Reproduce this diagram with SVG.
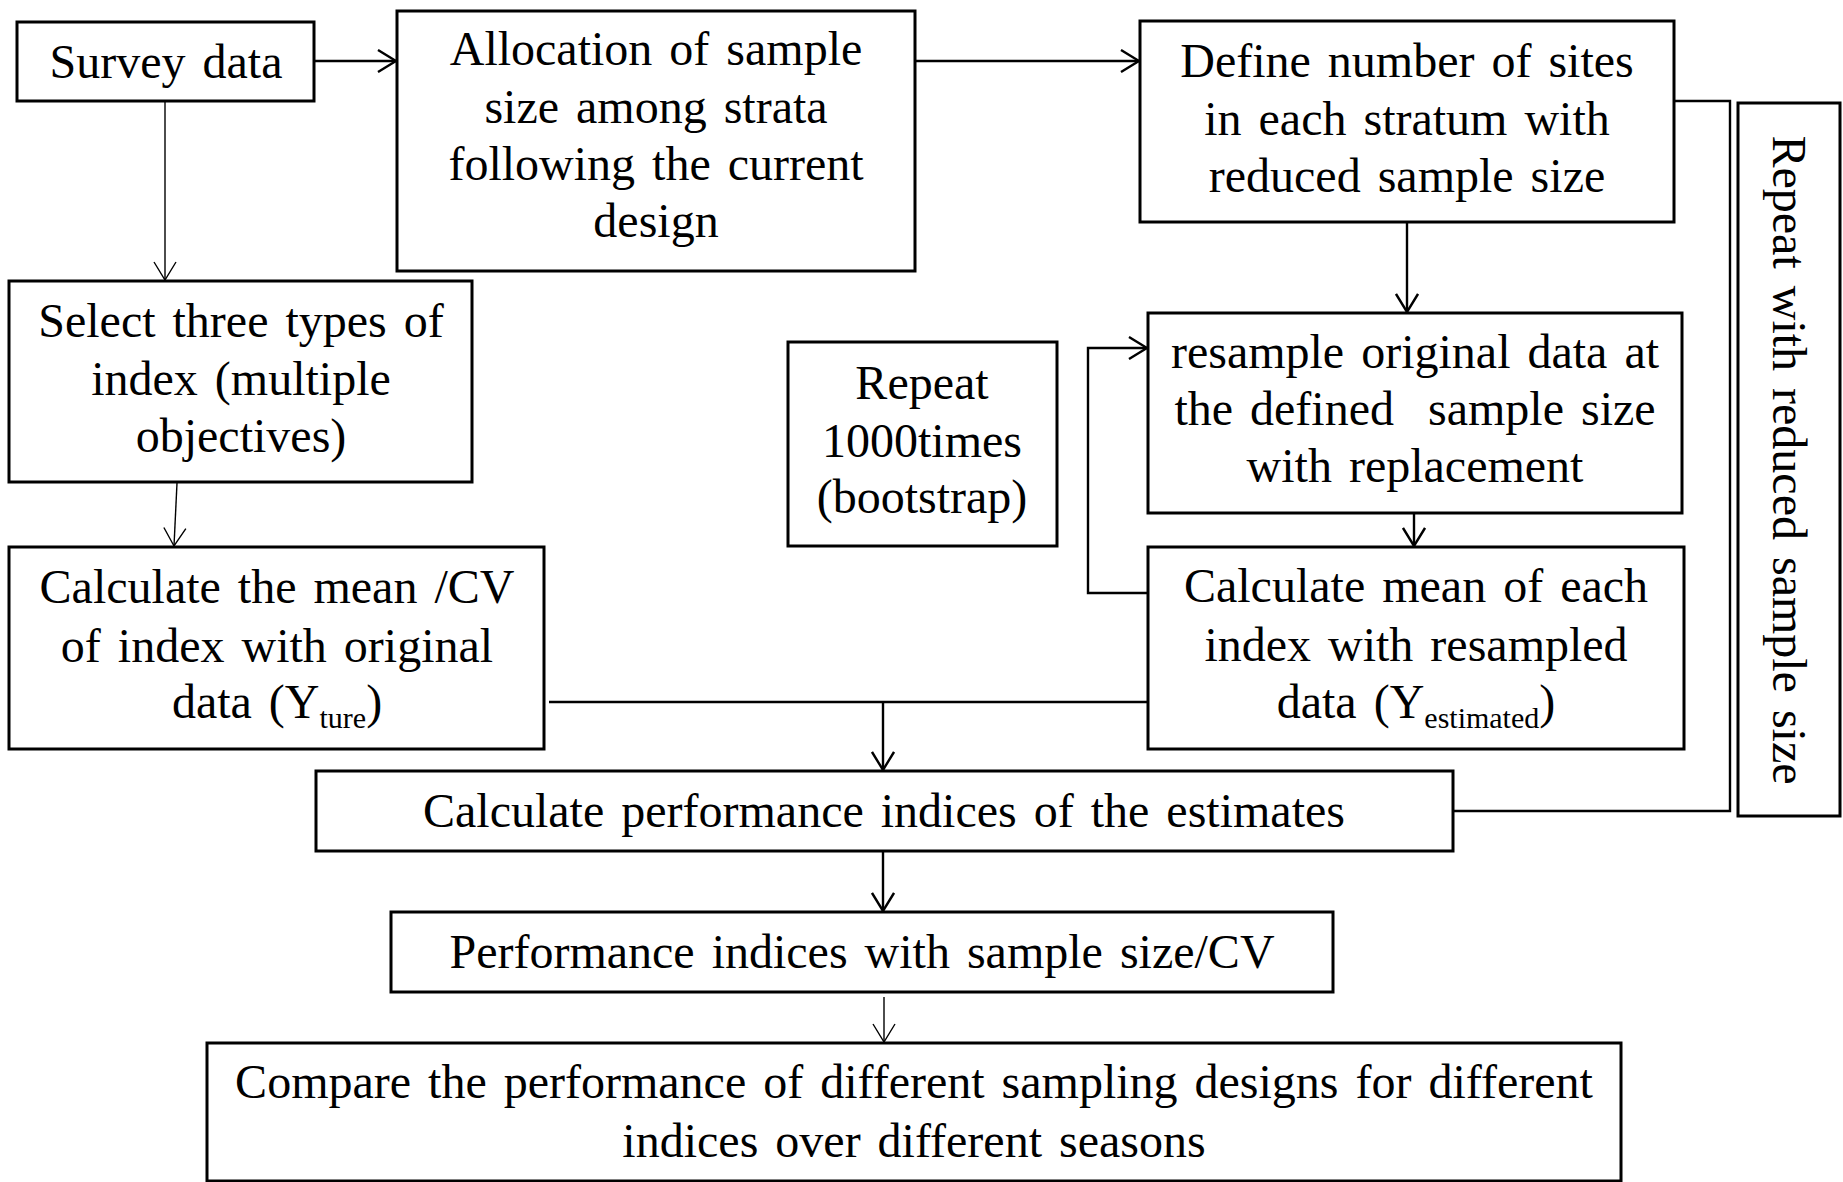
<svg xmlns="http://www.w3.org/2000/svg" width="1843" height="1182" viewBox="0 0 1843 1182">
  <style>
    .box { fill: #ffffff; stroke: #000000; stroke-width: 3; }
    .t { font-family: "Liberation Serif", "Times New Roman", serif; font-size: 48px; fill: #000000; text-anchor: middle; word-spacing: 5px; }
    .sub { font-size: 30px; }
    .thick { fill: none; stroke: #000000; stroke-width: 2.4; }
    .thin { fill: none; stroke: #000000; stroke-width: 1.4; }
  </style>
  <defs>
    <marker id="arrowThick" markerUnits="userSpaceOnUse" viewBox="0 0 20 24" markerWidth="20" markerHeight="24" refX="19" refY="12" orient="auto">
      <path d="M1,1 L19,12 L1,23" fill="none" stroke="#000000" stroke-width="2.4"/>
    </marker>
    <marker id="arrowThin" markerUnits="userSpaceOnUse" viewBox="0 0 20 24" markerWidth="20" markerHeight="24" refX="19" refY="12" orient="auto">
      <path d="M1,1 L19,12 L1,23" fill="none" stroke="#000000" stroke-width="1.4"/>
    </marker>
  </defs>
  <rect width="1843" height="1182" fill="#ffffff"/>

  <g id="connectors">
    <path class="thick" d="M314,61 L396,61" marker-end="url(#arrowThick)"/>
    <path class="thick" d="M915,61 L1139,61" marker-end="url(#arrowThick)"/>
    <path class="thin" d="M165,101 L165,280" marker-end="url(#arrowThin)"/>
    <path class="thin" d="M177,483 L174,546" marker-end="url(#arrowThin)"/>
    <path class="thick" d="M1407,222 L1407,312" marker-end="url(#arrowThick)"/>
    <path class="thick" d="M1414,513 L1414,546" marker-end="url(#arrowThick)"/>
    <path class="thick" d="M1148,593 L1088,593 L1088,348 L1147,348" marker-end="url(#arrowThick)"/>
    <path class="thick" d="M549,702 L1148,702"/>
    <path class="thick" d="M883,702 L883,770" marker-end="url(#arrowThick)"/>
    <path class="thick" d="M883,851 L883,911" marker-end="url(#arrowThick)"/>
    <path class="thin" d="M884,997 L884,1042" marker-end="url(#arrowThin)"/>
    <path class="thick" d="M1674,101 L1730,101 L1730,811 L1453,811"/>
  </g>

  <g id="survey">
    <rect class="box" x="17" y="22" width="297" height="79"/>
    <text class="t" x="166" y="78">Survey data</text>
  </g>

  <g id="allocation">
    <rect class="box" x="397" y="11" width="518" height="260"/>
    <text class="t" x="656" y="65">Allocation of sample</text>
    <text class="t" x="656" y="123">size among strata</text>
    <text class="t" x="656" y="180">following the current</text>
    <text class="t" x="656" y="237">design</text>
  </g>

  <g id="define">
    <rect class="box" x="1140" y="21" width="534" height="201"/>
    <text class="t" x="1407" y="77">Define number of sites</text>
    <text class="t" x="1407" y="135">in each stratum with</text>
    <text class="t" x="1407" y="192">reduced sample size</text>
  </g>

  <g id="repeat-reduced">
    <rect class="box" x="1738" y="103" width="102" height="713"/>
    <text class="t" transform="translate(1773,460) rotate(90)" x="0" y="0">Repeat with reduced sample size</text>
  </g>

  <g id="select">
    <rect class="box" x="9" y="281" width="463" height="201"/>
    <text class="t" x="241" y="337">Select three types of</text>
    <text class="t" x="241" y="395">index (multiple</text>
    <text class="t" x="241" y="452">objectives)</text>
  </g>

  <g id="repeat-1000">
    <rect class="box" x="788" y="342" width="269" height="204"/>
    <text class="t" x="922" y="399">Repeat</text>
    <text class="t" x="922" y="457">1000times</text>
    <text class="t" x="922" y="513">(bootstrap)</text>
  </g>

  <g id="resample">
    <rect class="box" x="1148" y="313" width="534" height="200"/>
    <text class="t" x="1415" y="368">resample original data at</text>
    <text class="t" x="1415" y="425" style="white-space:pre">the defined  sample size</text>
    <text class="t" x="1415" y="482">with replacement</text>
  </g>

  <g id="calc-mean-each">
    <rect class="box" x="1148" y="547" width="536" height="202"/>
    <text class="t" x="1416" y="602">Calculate mean of each</text>
    <text class="t" x="1416" y="661">index with resampled</text>
    <text class="t" x="1416" y="718">data (Y<tspan class="sub" dy="10">estimated</tspan><tspan dy="-10">)</tspan></text>
  </g>

  <g id="calc-mean-cv">
    <rect class="box" x="9" y="547" width="535" height="202"/>
    <text class="t" x="277" y="603">Calculate the mean /CV</text>
    <text class="t" x="277" y="662">of index with original</text>
    <text class="t" x="277" y="718">data (Y<tspan class="sub" dy="10">ture</tspan><tspan dy="-10">)</tspan></text>
  </g>

  <g id="calc-performance">
    <rect class="box" x="316" y="771" width="1137" height="80"/>
    <text class="t" x="884" y="827">Calculate performance indices of the estimates</text>
  </g>

  <g id="performance-indices">
    <rect class="box" x="391" y="912" width="942" height="80"/>
    <text class="t" x="862" y="968">Performance indices with sample size/CV</text>
  </g>

  <g id="compare">
    <rect class="box" x="207" y="1043" width="1414" height="138"/>
    <text class="t" x="914" y="1098">Compare the performance of different sampling designs for different</text>
    <text class="t" x="914" y="1157">indices over different seasons</text>
  </g>
</svg>
